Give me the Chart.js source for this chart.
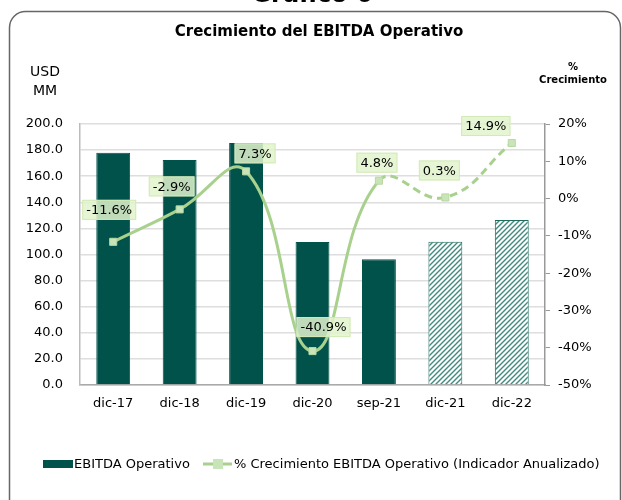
<!DOCTYPE html>
<html>
<head>
<meta charset="utf-8">
<script src="https://cdn.jsdelivr.net/npm/chart.js@4"></script>
<style>
  html, body { margin: 0; padding: 0; background: #fff; }
  #wrap { width: 622px; height: 500px; }
</style>
</head>
<body>
<div id="wrap"><canvas id="grafico"></canvas></div>
<script>
// datos del grafico
const categorias = ['dic-17', 'dic-18', 'dic-19', 'dic-20', 'sep-21', 'dic-21', 'dic-22'];
const ebitda = [178.0, 172.5, 185.5, 109.6, 96.3, 109.8, 126.4];
const crecimiento = [-11.6, -2.9, 7.3, -40.9, 4.8, 0.3, 14.9];
const ticksUsd = [0, 200, 20];
const ticksPct = [-50, 20, 10];

const fuente = '"DejaVu Sans", sans-serif';
const verdeOscuro = '#01524a';
const verdeLinea = '#a9d18e';

// patron rayado para proyecciones
function rayado() {
    const c = document.createElement('canvas');
    c.width = 5; c.height = 5;
    const g = c.getContext('2d');
    g.fillStyle = '#ffffff';
    g.fillRect(0, 0, 5, 5);
    g.strokeStyle = '#3f8a7c';
    g.lineWidth = 1.4;
    g.beginPath();
    g.moveTo(0, 5); g.lineTo(5, 0);
    g.moveTo(-2.5, 2.5); g.lineTo(2.5, -2.5);
    g.moveTo(2.5, 7.5); g.lineTo(7.5, 2.5);
    g.stroke();
    return g.createPattern(c, 'repeat');
}
const patron = rayado();
const coloresBarra = ebitda.map((v, i) => i >= 5 ? patron : verdeOscuro);
const bordesBarra = ebitda.map((v, i) => i >= 5 ? '#1f6b5e' : verdeOscuro);

// desplazamiento de etiquetas respecto al punto
const desplazar = [[-4, -32], [-8, -23], [9, -18], [11, -24], [-2, -18], [-6, -27], [-26, -17]];

const textos = {
    id: 'textos',
    afterDraw(chart) {
        const ctx = chart.ctx;
        ctx.save();
        // marco
        ctx.strokeStyle = '#666';
        ctx.lineWidth = 1.5;
        ctx.beginPath();
        ctx.roundRect(9.5, 11.5, 611, 520, 16);
        ctx.stroke();
        ctx.fillStyle = '#000';
        ctx.textAlign = 'center';
        ctx.textBaseline = 'middle';
        ctx.font = 'bold 24px ' + fuente;
        ctx.fillText('Grafico 6', 312, -4);
        ctx.font = 'bold 15px ' + fuente;
        ctx.fillText('Crecimiento del EBITDA Operativo', 319, 32);
        ctx.font = '14px ' + fuente;
        ctx.fillText('USD', 45, 72);
        ctx.fillText('MM', 45, 91);
        ctx.font = 'bold 10px ' + fuente;
        ctx.fillText('%', 573, 67);
        ctx.fillText('Crecimiento', 573, 80);

        // etiquetas de datos
        const meta = chart.getDatasetMeta(0);
        ctx.font = '13px ' + fuente;
        meta.data.forEach((p, i) => {
            const t = crecimiento[i].toFixed(1) + '%';
            const w = ctx.measureText(t).width + 8;
            const h = 20;
            const cx = p.x + desplazar[i][0];
            const cy = p.y + desplazar[i][1];
            ctx.fillStyle = 'rgba(226,243,205,0.85)';
            ctx.fillRect(cx - w / 2, cy - h / 2, w, h);
            ctx.strokeStyle = '#d3eab8';
            ctx.lineWidth = 1;
            ctx.strokeRect(cx - w / 2 + 0.5, cy - h / 2 + 0.5, w - 1, h - 1);
            ctx.fillStyle = '#000';
            ctx.fillText(t, cx, cy + 1);
        });

        // leyenda
        ctx.textAlign = 'left';
        ctx.font = '13px ' + fuente;
        ctx.fillStyle = verdeOscuro;
        ctx.fillRect(43, 460, 30, 8);
        ctx.fillStyle = '#000';
        ctx.fillText('EBITDA Operativo', 74, 465);
        ctx.strokeStyle = verdeLinea;
        ctx.lineWidth = 3;
        ctx.beginPath();
        ctx.moveTo(203, 464); ctx.lineTo(232, 464);
        ctx.stroke();
        ctx.fillStyle = '#c9e4b8';
        ctx.fillRect(213, 459, 10, 10);
        ctx.fillStyle = '#000';
        ctx.fillText('% Crecimiento EBITDA Operativo (Indicador Anualizado)', 234, 465);
        ctx.restore();
    }
};

new Chart(document.getElementById('grafico'), {
    data: {
        labels: categorias,
        datasets: [
            {
                type: 'line',
                label: '% Crecimiento EBITDA Operativo (Indicador Anualizado)',
                data: crecimiento,
                yAxisID: 'yPct',
                borderColor: verdeLinea,
                borderWidth: 3,
                tension: 0.45,
                pointStyle: 'rect',
                pointRadius: 5,
                pointBackgroundColor: '#c9e4b8',
                pointBorderColor: '#b7d9a2',
                pointBorderWidth: 1,
                segment: {
                    borderDash: c => c.p0DataIndex >= 4 ? [8, 5] : undefined
                },
                order: 0
            },
            {
                type: 'bar',
                label: 'EBITDA Operativo',
                data: ebitda,
                yAxisID: 'yUsd',
                backgroundColor: coloresBarra,
                borderColor: bordesBarra,
                borderWidth: 1,
                barPercentage: 0.51,
                categoryPercentage: 1,
                order: 1
            }
        ]
    },
    options: {
        responsive: true,
        maintainAspectRatio: false,
        animation: false,
        layout: { padding: { top: 124, bottom: 75, left: 0, right: 0 } },
        plugins: {
            legend: { display: false },
            tooltip: { enabled: false }
        },
        scales: {
            x: {
                grid: { display: false, drawTicks: false },
                border: { color: '#aaa', width: 1.5 },
                ticks: { color: '#000', padding: 11, font: { family: fuente, size: 13 } },
                afterFit: s => { s.height = 40; }
            },
            yUsd: {
                position: 'left',
                min: ticksUsd[0],
                max: ticksUsd[1],
                ticks: {
                    stepSize: ticksUsd[2],
                    color: '#000',
                    padding: 17,
                    font: { family: fuente, size: 13 },
                    callback: v => v.toFixed(1)
                },
                grid: { color: '#dedede', lineWidth: 1.5, drawTicks: false },
                border: { color: '#bbb', width: 1.5 },
                afterFit: s => { s.width = 80; }
            },
            yPct: {
                position: 'right',
                min: ticksPct[0],
                max: ticksPct[1],
                ticks: {
                    stepSize: ticksPct[2],
                    color: '#000',
                    padding: 8,
                    font: { family: fuente, size: 13 },
                    callback: v => v + '%'
                },
                grid: { drawOnChartArea: false, color: '#999', tickLength: 5 },
                border: { color: '#999', width: 1.5 },
                afterFit: s => { s.width = 77; }
            }
        }
    },
    plugins: [textos]
});
</script>
</body>
</html>
